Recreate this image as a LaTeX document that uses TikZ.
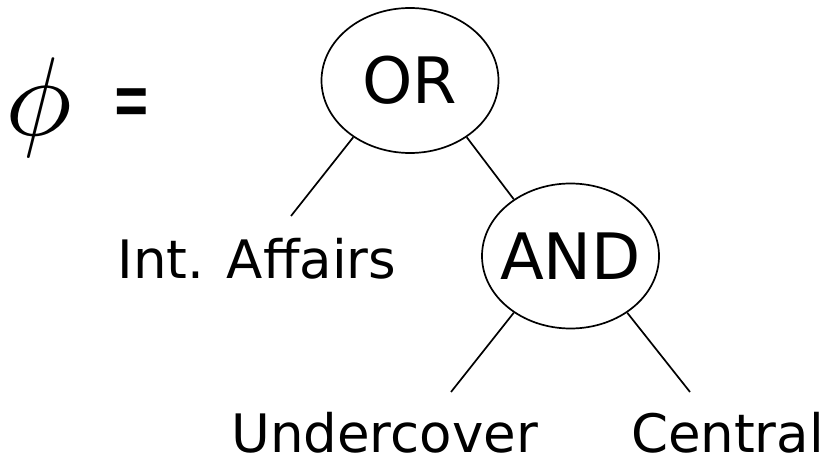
\documentclass[tikz,border=0pt]{standalone}
\usepackage{fontspec}
\setmainfont{DejaVu Sans}
\usetikzlibrary{shapes.geometric}
\begin{document}
\begin{tikzpicture}[x=1pt,y=-1pt,
  gate/.style={draw, ellipse, line width=1.7pt, inner sep=-40pt,
    minimum width=177pt, minimum height=145pt,
    font=\fontsize{64}{70}\selectfont},
  leaf/.style={anchor=base, inner sep=0pt, font=\fontsize{53}{60}\selectfont},
  edge/.style={line width=1.7pt}]
\useasboundingbox (0,0) rectangle (827,462);
\node[inner sep=0pt] (phi) at (38.5,107.5) {\scalebox{11.2}{$\phi$}};
\node[inner sep=0pt, font=\fontsize{46}{50}\selectfont] (eq) at (131.5,110) {\scalebox{1}[2.0]{=}};
\node[gate] (or) at (410,80.5) {OR};
\node[gate] (and) at (570.5,256) {AND};
\node[leaf] (ia) at (257,279) {Int. Affairs};
\node[leaf] (uc) at (384.5,452) {Undercover};
\node[leaf] (ce) at (727.5,452) {Central};
\coordinate (iaend) at (291,216);
\coordinate (ucend) at (451,392);
\coordinate (ceend) at (690,392);
\draw[edge] (or.-135) -- (iaend);
\draw[edge] (or.-45) -- (and.135);
\draw[edge] (and.-135) -- (ucend);
\draw[edge] (and.-45) -- (ceend);
\end{tikzpicture}
\end{document}
